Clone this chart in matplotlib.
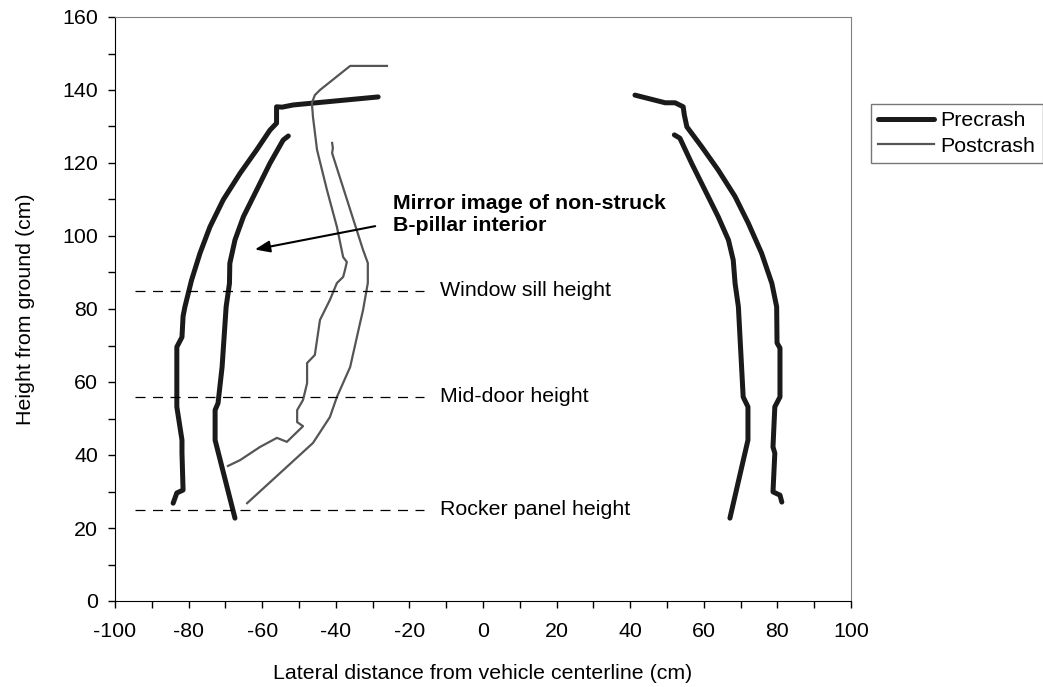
import matplotlib

matplotlib.use("Agg")

import matplotlib.pyplot as plt
from matplotlib.ticker import MultipleLocator

plt.rcParams["font.family"] = ["Liberation Sans", "DejaVu Sans"]
plt.rcParams["axes.unicode_minus"] = False

# Precrash B-pillar profiles (cm)
pre_left_outer_x = [-28.5, -51.6, -54.6, -56.1, -56.1, -57.9, -61.5, -66.0, -70.6, -74.2,
                    -76.9, -79.2, -81.0, -81.5, -81.8, -83.2, -83.2, -81.8, -81.8, -81.5,
                    -83.2, -84.2]
pre_left_outer_y = [138.1, 135.9, 135.3, 135.4, 130.9, 129.0, 123.6, 117.2, 109.9, 102.5,
                    95.3, 87.9, 80.6, 78.0, 72.3, 69.6, 53.2, 44.1, 40.5, 30.4,
                    29.6, 26.8]
pre_left_inner_x = [-52.9, -54.3, -57.9, -61.5, -65.1, -67.4, -68.8, -68.9, -69.8, -70.9,
                    -72.0, -72.8, -72.8, -67.4]
pre_left_inner_y = [127.4, 126.3, 119.9, 112.6, 105.3, 98.9, 92.5, 87.0, 80.6, 64.1,
                    54.2, 52.3, 44.1, 22.7]
pre_right_outer_x = [41.3, 49.5, 52.2, 54.4, 54.7, 55.4, 59.4, 63.9, 68.5, 72.1, 75.7,
                     78.5, 79.8, 79.9, 80.7, 80.7, 79.3, 78.8, 79.3, 78.8, 80.7, 81.2]
pre_right_outer_y = [138.6, 136.5, 136.5, 135.4, 133.2, 129.9, 124.5, 118.1, 110.8, 103.5,
                     95.3, 87.0, 80.6, 70.7, 69.3, 55.9, 53.2, 42.2, 40.5, 29.9, 29.0, 27.1]
pre_right_inner_x = [52.0, 53.5, 56.7, 60.3, 63.9, 66.7, 68.0, 68.5, 69.4, 70.7, 72.0,
                     72.0, 67.1]
pre_right_inner_y = [127.7, 126.8, 119.9, 112.6, 105.3, 98.9, 93.4, 87.0, 80.6, 55.9, 53.2,
                     44.1, 22.7]

# Postcrash profiles (cm)
post_a_x = [-26.1, -36.1, -44.3, -45.7, -46.5, -46.2, -45.1, -42.4, -39.7, -38.0, -37.0,
            -37.5, -38.0, -39.7, -41.6, -44.3, -45.7, -47.8, -47.8, -48.9, -50.5, -50.5,
            -48.9, -53.3, -56.0, -60.6, -66.0, -69.3]
post_a_y = [146.6, 146.6, 140.0, 138.6, 136.4, 132.6, 123.6, 112.6, 102.5, 94.2, 92.9,
            90.7, 88.8, 87.1, 82.5, 77.0, 67.4, 65.2, 59.7, 55.1, 52.3, 49.0,
            47.9, 43.6, 44.7, 42.2, 38.6, 37.0]
post_b_x = [-41.0, -40.8, -41.0, -32.6, -31.3, -31.3, -32.6, -33.4, -36.1, -39.7, -41.6,
            -46.2, -64.1]
post_b_y = [125.5, 124.1, 122.7, 96.2, 92.6, 87.1, 79.7, 76.2, 64.1, 55.9, 50.4,
            43.3, 26.8]

ref_heights = [85, 56, 25]
ref_labels = ["Window sill height", "Mid-door height", "Rocker panel height"]

FS = 15.4

fig = plt.figure(figsize=(10.43, 6.87), dpi=100)
ax = fig.add_axes([115 / 1043, 1 - 601 / 687, 736 / 1043, 584 / 687])

pre_style = dict(color="#1a1a1a", linewidth=3.6, solid_capstyle="round",
                 solid_joinstyle="round")
post_style = dict(color="#555555", linewidth=1.6)

ax.plot(pre_left_outer_x, pre_left_outer_y, label="Precrash", **pre_style)
ax.plot(pre_left_inner_x, pre_left_inner_y, **pre_style)
ax.plot(pre_right_outer_x, pre_right_outer_y, **pre_style)
ax.plot(pre_right_inner_x, pre_right_inner_y, **pre_style)
ax.plot(post_a_x, post_a_y, label="Postcrash", **post_style)
ax.plot(post_b_x, post_b_y, **post_style)

for h, lab in zip(ref_heights, ref_labels):
    ax.plot([-94.6, -16], [h, h], color="black", linewidth=0.9, dashes=(8, 6))
    ax.text(-11.7, h, lab, fontsize=FS, va="center", ha="left")

ax.text(-24.5, 106.0, "Mirror image of non-struck\nB-pillar interior", fontsize=FS,
        fontweight="bold", va="center", ha="left", linespacing=1.2)
ax.annotate("", xy=(-62.0, 96.3), xytext=(-29.3, 102.7),
            arrowprops=dict(arrowstyle="-|>,head_length=0.9,head_width=0.35",
                            color="black", lw=1.5, shrinkA=0, shrinkB=0))

ax.set_xlim(-100, 100)
ax.set_ylim(0, 160)
ax.xaxis.set_major_locator(MultipleLocator(20))
ax.xaxis.set_minor_locator(MultipleLocator(10))
ax.yaxis.set_major_locator(MultipleLocator(20))
ax.yaxis.set_minor_locator(MultipleLocator(10))
ax.tick_params(which="both", direction="out", length=5, width=1, labelsize=FS)
ax.tick_params(axis="x", pad=10)
ax.tick_params(axis="y", pad=7)
ax.set_xlabel("Lateral distance from vehicle centerline (cm)", fontsize=FS, labelpad=17)
ax.set_ylabel("Height from ground (cm)", fontsize=FS, labelpad=20)
for side in ["top", "right"]:
    ax.spines[side].set_color("#808080")

leg = ax.legend(loc="upper left", bbox_to_anchor=(871 / 1043, 1 - 104 / 687),
                bbox_transform=fig.transFigure, fontsize=FS, frameon=True,
                fancybox=False, edgecolor="#555555", handlelength=2.6,
                handletextpad=0.3, borderpad=0.35, labelspacing=0.3,
                borderaxespad=0)
leg.get_frame().set_linewidth(1.0)

fig.savefig("out.png", dpi=100)
